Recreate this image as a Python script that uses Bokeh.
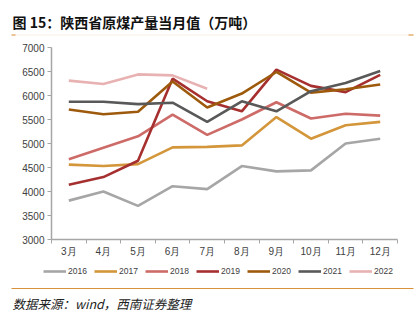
from bokeh.plotting import figure
from bokeh.layouts import column
from bokeh.models import FixedTicker, Label, Legend, LegendItem, BoxAnnotation, Range1d
from bokeh.embed import file_html
from bokeh.resources import INLINE

months = ["3月", "4月", "5月", "6月", "7月", "8月", "9月", "10月", "11月", "12月"]
y2016 = [3810, 4000, 3700, 4110, 4050, 4530, 4420, 4440, 5000, 5100]
y2017 = [4560, 4530, 4570, 4920, 4930, 4960, 5550, 5100, 5380, 5450]
y2018 = [4670, 4910, 5150, 5600, 5180, 5500, 5860, 5520, 5620, 5580]
y2019 = [4140, 4300, 4640, 6350, 5880, 5670, 6540, 6200, 6070, 6430]
y2020 = [5710, 5610, 5660, 6290, 5750, 6040, 6490, 6060, 6130, 6230]
y2021 = [5870, 5870, 5820, 5850, 5450, 5880, 5670, 6090, 6260, 6510]
y2022 = [6310, 6240, 6440, 6420, 6140]
years = ["2016", "2017", "2018", "2019", "2020", "2021", "2022"]
series = [y2016, y2017, y2018, y2019, y2020, y2021, y2022]
colors = ["#A6A6A6", "#D4963A", "#CD6B68", "#A5302F", "#9E5A0C", "#595959", "#E8B2B2"]
y_ticks = [3000, 3500, 4000, 4500, 5000, 5500, 6000, 6500, 7000]

W = 417
TOP_H, MAIN_H, BOT_H = 40, 222, 61
ORANGE = "#D9913A"


def blank(h):
    f = figure(width=W, height=h, output_backend="svg", toolbar_location=None,
               x_axis_type=None, y_axis_type=None, min_border=0,
               x_range=Range1d(0, 1), y_range=Range1d(0, 1), frame_align=False)
    f.outline_line_color = None
    f.grid.grid_line_color = None
    f.border_fill_color = "white"
    f.background_fill_color = "white"
    return f


def hline(f, h, x0, x1, y, color, th=1.0):
    f.add_layout(BoxAnnotation(left=x0, right=x1, top=h - y + th / 2, bottom=h - y - th / 2,
                               left_units="screen", right_units="screen",
                               top_units="screen", bottom_units="screen",
                               fill_color=color, fill_alpha=1, line_color=None))


# ---- title strip ----
top = blank(TOP_H)
top.add_layout(Label(x=12, y=TOP_H - 21, x_units="screen", y_units="screen",
                     text="图 15：陕西省原煤产量当月值（万吨）", text_font="Noto Sans CJK SC",
                     text_font_style="bold", text_font_size="14px", text_color="#111111",
                     text_baseline="middle"))
hline(top, TOP_H, 11, 413, 34.5, "#FAF0E2", 1)
hline(top, TOP_H, 11, 15, 34.5, ORANGE, 1.2)
hline(top, TOP_H, 408, 413, 34.5, ORANGE, 1.2)

# ---- main chart ----
p = figure(width=W, height=MAIN_H, output_backend="svg", toolbar_location=None,
           x_range=Range1d(0, len(months)), y_range=Range1d(3000, 7000),
           min_border_left=51, min_border_right=20, min_border_top=7,
           min_border_bottom=23, frame_align=False)
p.outline_line_color = None
p.grid.grid_line_color = None
p.background_fill_color = "white"
p.border_fill_color = "white"

centers = [i + 0.5 for i in range(len(months))]
p.xaxis.ticker = FixedTicker(ticks=centers, minor_ticks=list(range(len(months) + 1)))
p.xaxis.major_label_overrides = {c: m for c, m in zip(centers, months)}
p.xaxis.major_tick_out = 0
p.xaxis.major_tick_in = 0
p.xaxis.minor_tick_out = 4
p.xaxis.minor_tick_in = 0
p.xaxis.minor_tick_line_color = "#A6A6A6"
p.yaxis.ticker = FixedTicker(ticks=y_ticks)
p.yaxis.major_tick_out = 4
p.yaxis.major_tick_in = 0
p.yaxis.minor_tick_line_color = None
for ax in (p.xaxis, p.yaxis):
    ax.axis_line_color = "#A6A6A6"
    ax.axis_line_width = 1.5
    ax.major_tick_line_color = "#A6A6A6"
    ax.major_label_text_font = "Liberation Sans"
    ax.major_label_text_font_size = "10px"
    ax.major_label_text_color = "#404040"
p.xaxis.major_label_standoff = 2
p.yaxis.major_label_standoff = 3

for name, vals, col in zip(years, series, colors):
    p.line(centers[:len(vals)], vals, line_color=col, line_width=2.6)

# ---- legend + source strip ----
bot = blank(BOT_H)
items = []
nan = float("nan")
for name, col in zip(years, colors):
    r = bot.line(x=[nan], y=[nan], line_color=col, line_width=2.6)
    items.append(LegendItem(label=name, renderers=[r]))
legend = Legend(items=items, orientation="horizontal", location=(43, BOT_H - 15),
                padding=0, margin=0, spacing=6, glyph_width=23, glyph_height=12,
                label_standoff=2, label_height=12, label_text_font="Liberation Sans",
                label_text_font_size="8.5px", label_text_color="#404040",
                border_line_color=None, background_fill_alpha=0)
bot.add_layout(legend, "center")
hline(bot, BOT_H, 11, 413, 288 - 262, ORANGE, 1.2)
bot.add_layout(Label(x=12, y=BOT_H - (303 - 262), x_units="screen", y_units="screen",
                     text="数据来源：wind，西南证券整理", text_font="Noto Sans CJK SC",
                     text_font_style="italic", text_font_size="12.5px", text_color="#222222",
                     text_baseline="middle"))

layout = column(top, p, bot, spacing=0)
open("out.html", "w").write(file_html(layout, INLINE))
